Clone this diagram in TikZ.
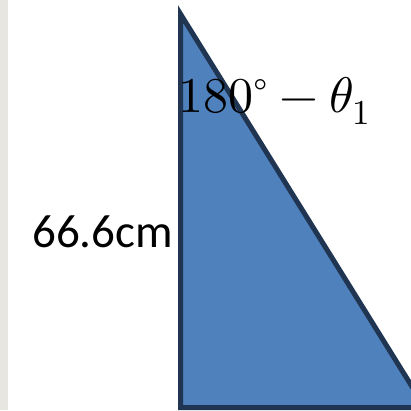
\documentclass[tikz,border=0pt]{standalone}
\usepackage{fontspec}
\usepackage{unicode-math}
\setmathfont{Latin Modern Math}
\newfontfamily\calib{Carlito}
\definecolor{triFill}{HTML}{4F81BD}
\definecolor{triLine}{HTML}{1F3552}
\definecolor{bgStrip}{HTML}{E8E6E1}
\begin{document}
\begin{tikzpicture}[x=1pt,y=-1pt,
  tri/.style={fill=triFill,draw=triLine,line width=5pt,line join=miter},
  lbl/.style={inner sep=0pt,anchor=base west}]
\useasboundingbox (0,0) rectangle (411,410);
\fill[white] (0,0) rectangle (411,410);
\fill[bgStrip] (0,0) rectangle (8,410);
\begin{scope}
\clip (0,0) rectangle (411,410);
\coordinate (A) at (180.5,14);
\coordinate (B) at (180.5,407.5);
\coordinate (C) at (425,407.5);
\draw[tri] (A) -- (B) -- (C) -- cycle;
\end{scope}
\node[lbl,font=\fontsize{50}{60}\selectfont] (ang) at (178,112) {$180^\circ-\theta_1$};
\node[lbl,font=\calib\fontsize{47}{56}\selectfont] (len) at (32,247) {66.6cm};
\end{tikzpicture}
\end{document}
